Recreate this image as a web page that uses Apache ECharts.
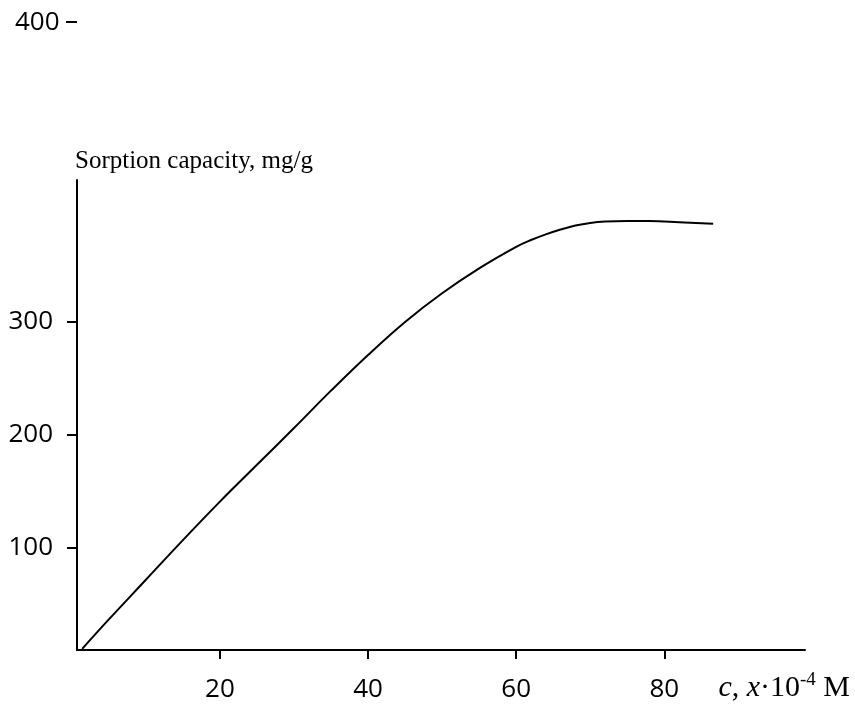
<!DOCTYPE html>
<html>
<head>
<meta charset="utf-8">
<script src="https://cdn.jsdelivr.net/npm/echarts@6/dist/echarts.min.js"></script>
<style>
  html, body { margin: 0; padding: 0; background: #fff; }
  #chart { width: 855px; height: 704px; }
</style>
</head>
<body>
<div id="chart"></div>
<script>
// concentration, x10^-4 M
var conc = [1.4, 5, 10, 15, 20, 25, 30, 35, 40, 45, 50, 55, 60, 62, 64, 66, 68, 70, 72, 75, 78, 82, 86.6];
// sorption capacity, mg/g
var capacity = [11, 37, 72, 107, 141, 173.5, 206, 239, 270.5, 299.7, 325, 347, 366, 372, 377, 381.3, 384.8, 387.1, 388.3, 388.8, 388.8, 387.8, 386.3];

var xTicks = [20, 40, 60, 80];
var yTicks = [100, 200, 300];

var points = [];
for (var i = 0; i < conc.length; i++) {
  points.push([conc[i], capacity[i]]);
}

var chart = echarts.init(document.getElementById('chart'));

var option = {
  animation: false,
  backgroundColor: '#fff',
  grid: { left: 77, right: 50, top: 180, bottom: 54, outerBoundsMode: 'none', containLabel: false },
  xAxis: {
    type: 'value',
    min: 0.7,
    max: 99,
    name: '{i|c}, {i|x}·10{sup|-4} M',
    nameLocation: 'end',
    nameGap: 45,
    nameTextStyle: {
      align: 'right',
      verticalAlign: 'top',
      padding: [21, 0, 0, 0],
      fontFamily: 'Liberation Serif',
      fontSize: 30,
      color: '#000',
      rich: {
        i: { fontFamily: 'Liberation Serif', fontStyle: 'italic', fontSize: 30, color: '#000' },
        sup: { fontFamily: 'Liberation Serif', fontSize: 19, color: '#000', verticalAlign: 'top', padding: [0, 0, 15, 0] }
      }
    },
    axisLine: { lineStyle: { color: '#000', width: 2 } },
    axisTick: { show: true, length: 9, customValues: xTicks, lineStyle: { color: '#000', width: 2 } },
    axisLabel: { customValues: xTicks, margin: 27, fontFamily: 'Open Sans', fontSize: 26, color: '#000' },
    splitLine: { show: false }
  },
  yAxis: {
    type: 'value',
    min: 10,
    max: 425,
    name: 'Sorption capacity, mg/g',
    nameLocation: 'end',
    nameGap: 6,
    nameTextStyle: {
      align: 'left',
      verticalAlign: 'bottom',
      padding: [0, 0, 0, -2],
      fontFamily: 'Liberation Serif',
      fontSize: 25,
      color: '#000'
    },
    axisLine: { show: true, lineStyle: { color: '#000', width: 2 } },
    axisTick: { show: true, length: 10, customValues: yTicks, lineStyle: { color: '#000', width: 2 } },
    axisLabel: { customValues: yTicks, margin: 24, padding: [12, 0, 0, 0], fontFamily: 'Open Sans', fontSize: 26, color: '#000' },
    splitLine: { show: false }
  },
  graphic: [
    { type: 'text', left: 15, top: 10, style: { text: '400', font: '26px "Open Sans"', fill: '#000' } },
    { type: 'line', shape: { x1: 66, y1: 22, x2: 77, y2: 22 }, style: { stroke: '#000', lineWidth: 2 } }
  ],
  series: [
    {
      type: 'line',
      data: points,
      smooth: 0.4,
      showSymbol: false,
      lineStyle: { color: '#000', width: 2 }
    }
  ]
};

chart.setOption(option);
</script>
</body>
</html>
